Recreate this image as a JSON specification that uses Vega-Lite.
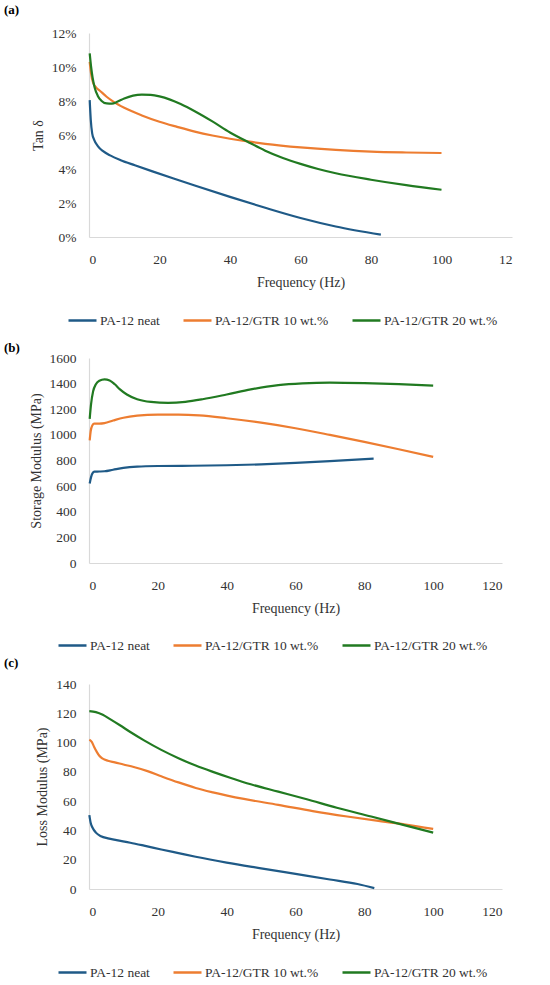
{
  "$schema": "https://vega.github.io/schema/vega-lite/v6.json",
  "background": "white",
  "padding": {"left": 4, "top": 4, "right": 4, "bottom": 0},
  "config": {
    "font": "Liberation Serif",
    "view": {"stroke": null},
    "axis": {
      "grid": false,
      "ticks": false,
      "domainColor": "#d9d9d9",
      "domainWidth": 1.2,
      "labelFontSize": 13.5,
      "labelColor": "#333333",
      "titleFontSize": 14,
      "titleFontWeight": "normal",
      "titleColor": "#333333"
    },
    "axisX": {"labelPadding": 15, "titlePadding": 10},
    "axisY": {"labelPadding": 13, "titlePadding": 6},
    "legend": {
      "orient": "none",
      "direction": "horizontal",
      "symbolType": "stroke",
      "symbolSize": 784,
      "symbolStrokeWidth": 2.5,
      "labelFontSize": 13.5,
      "labelColor": "#333333",
      "labelOffset": 2,
      "labelLimit": 300,
      "columnPadding": 18
    },
    "title": {"anchor": "start", "frame": "group", "fontSize": 13, "fontWeight": "bold", "color": "#000000", "dx": -85}
  },
  "datasets": {
    "dma": [
      {"p": "a", "s": "PA-12 neat", "f": 0.2, "v": 8.05},
      {"p": "a", "s": "PA-12 neat", "f": 0.5, "v": 6.9},
      {"p": "a", "s": "PA-12 neat", "f": 0.9, "v": 6.1},
      {"p": "a", "s": "PA-12 neat", "f": 1.5, "v": 5.7},
      {"p": "a", "s": "PA-12 neat", "f": 2.5, "v": 5.35},
      {"p": "a", "s": "PA-12 neat", "f": 4, "v": 5.05},
      {"p": "a", "s": "PA-12 neat", "f": 6, "v": 4.8},
      {"p": "a", "s": "PA-12 neat", "f": 9, "v": 4.52},
      {"p": "a", "s": "PA-12 neat", "f": 13, "v": 4.22},
      {"p": "a", "s": "PA-12 neat", "f": 18, "v": 3.86},
      {"p": "a", "s": "PA-12 neat", "f": 24, "v": 3.44},
      {"p": "a", "s": "PA-12 neat", "f": 30, "v": 3.03},
      {"p": "a", "s": "PA-12 neat", "f": 40, "v": 2.36},
      {"p": "a", "s": "PA-12 neat", "f": 50, "v": 1.72},
      {"p": "a", "s": "PA-12 neat", "f": 60, "v": 1.12},
      {"p": "a", "s": "PA-12 neat", "f": 70, "v": 0.62},
      {"p": "a", "s": "PA-12 neat", "f": 82.8, "v": 0.14},
      {"p": "a", "s": "PA-12/GTR 10 wt.%", "f": 0.2, "v": 10.3},
      {"p": "a", "s": "PA-12/GTR 10 wt.%", "f": 0.6, "v": 9.6},
      {"p": "a", "s": "PA-12/GTR 10 wt.%", "f": 1.2, "v": 9.05},
      {"p": "a", "s": "PA-12/GTR 10 wt.%", "f": 2, "v": 8.8},
      {"p": "a", "s": "PA-12/GTR 10 wt.%", "f": 3, "v": 8.62},
      {"p": "a", "s": "PA-12/GTR 10 wt.%", "f": 5, "v": 8.25},
      {"p": "a", "s": "PA-12/GTR 10 wt.%", "f": 7, "v": 7.95},
      {"p": "a", "s": "PA-12/GTR 10 wt.%", "f": 10, "v": 7.6},
      {"p": "a", "s": "PA-12/GTR 10 wt.%", "f": 15, "v": 7.15},
      {"p": "a", "s": "PA-12/GTR 10 wt.%", "f": 20, "v": 6.78},
      {"p": "a", "s": "PA-12/GTR 10 wt.%", "f": 25, "v": 6.48},
      {"p": "a", "s": "PA-12/GTR 10 wt.%", "f": 30, "v": 6.2},
      {"p": "a", "s": "PA-12/GTR 10 wt.%", "f": 35, "v": 5.97},
      {"p": "a", "s": "PA-12/GTR 10 wt.%", "f": 40, "v": 5.78},
      {"p": "a", "s": "PA-12/GTR 10 wt.%", "f": 45, "v": 5.62},
      {"p": "a", "s": "PA-12/GTR 10 wt.%", "f": 50, "v": 5.48},
      {"p": "a", "s": "PA-12/GTR 10 wt.%", "f": 60, "v": 5.27},
      {"p": "a", "s": "PA-12/GTR 10 wt.%", "f": 70, "v": 5.12},
      {"p": "a", "s": "PA-12/GTR 10 wt.%", "f": 80, "v": 5.02},
      {"p": "a", "s": "PA-12/GTR 10 wt.%", "f": 90, "v": 4.97},
      {"p": "a", "s": "PA-12/GTR 10 wt.%", "f": 100, "v": 4.94},
      {"p": "a", "s": "PA-12/GTR 20 wt.%", "f": 0.2, "v": 10.8},
      {"p": "a", "s": "PA-12/GTR 20 wt.%", "f": 0.6, "v": 10.0},
      {"p": "a", "s": "PA-12/GTR 20 wt.%", "f": 1, "v": 9.4},
      {"p": "a", "s": "PA-12/GTR 20 wt.%", "f": 1.6, "v": 8.8},
      {"p": "a", "s": "PA-12/GTR 20 wt.%", "f": 2.5, "v": 8.3},
      {"p": "a", "s": "PA-12/GTR 20 wt.%", "f": 3.5, "v": 8.02},
      {"p": "a", "s": "PA-12/GTR 20 wt.%", "f": 5, "v": 7.86},
      {"p": "a", "s": "PA-12/GTR 20 wt.%", "f": 6.5, "v": 7.85},
      {"p": "a", "s": "PA-12/GTR 20 wt.%", "f": 8, "v": 7.95},
      {"p": "a", "s": "PA-12/GTR 20 wt.%", "f": 10, "v": 8.15},
      {"p": "a", "s": "PA-12/GTR 20 wt.%", "f": 12.5, "v": 8.32},
      {"p": "a", "s": "PA-12/GTR 20 wt.%", "f": 15, "v": 8.38},
      {"p": "a", "s": "PA-12/GTR 20 wt.%", "f": 17.5, "v": 8.36},
      {"p": "a", "s": "PA-12/GTR 20 wt.%", "f": 20, "v": 8.27},
      {"p": "a", "s": "PA-12/GTR 20 wt.%", "f": 23, "v": 8.08},
      {"p": "a", "s": "PA-12/GTR 20 wt.%", "f": 26, "v": 7.82},
      {"p": "a", "s": "PA-12/GTR 20 wt.%", "f": 30, "v": 7.4},
      {"p": "a", "s": "PA-12/GTR 20 wt.%", "f": 35, "v": 6.8},
      {"p": "a", "s": "PA-12/GTR 20 wt.%", "f": 40, "v": 6.15},
      {"p": "a", "s": "PA-12/GTR 20 wt.%", "f": 45, "v": 5.6},
      {"p": "a", "s": "PA-12/GTR 20 wt.%", "f": 50, "v": 5.08},
      {"p": "a", "s": "PA-12/GTR 20 wt.%", "f": 55, "v": 4.65},
      {"p": "a", "s": "PA-12/GTR 20 wt.%", "f": 60, "v": 4.3},
      {"p": "a", "s": "PA-12/GTR 20 wt.%", "f": 65, "v": 4.0},
      {"p": "a", "s": "PA-12/GTR 20 wt.%", "f": 70, "v": 3.75},
      {"p": "a", "s": "PA-12/GTR 20 wt.%", "f": 80, "v": 3.37},
      {"p": "a", "s": "PA-12/GTR 20 wt.%", "f": 90, "v": 3.05},
      {"p": "a", "s": "PA-12/GTR 20 wt.%", "f": 100, "v": 2.78},
      {"p": "b", "s": "PA-12 neat", "f": 0.2, "v": 621},
      {"p": "b", "s": "PA-12 neat", "f": 0.6, "v": 670},
      {"p": "b", "s": "PA-12 neat", "f": 1, "v": 700},
      {"p": "b", "s": "PA-12 neat", "f": 1.6, "v": 713},
      {"p": "b", "s": "PA-12 neat", "f": 3, "v": 714},
      {"p": "b", "s": "PA-12 neat", "f": 4.5, "v": 716},
      {"p": "b", "s": "PA-12 neat", "f": 7, "v": 728},
      {"p": "b", "s": "PA-12 neat", "f": 10, "v": 742},
      {"p": "b", "s": "PA-12 neat", "f": 14, "v": 752},
      {"p": "b", "s": "PA-12 neat", "f": 20, "v": 757},
      {"p": "b", "s": "PA-12 neat", "f": 30, "v": 759},
      {"p": "b", "s": "PA-12 neat", "f": 40, "v": 763},
      {"p": "b", "s": "PA-12 neat", "f": 50, "v": 770},
      {"p": "b", "s": "PA-12 neat", "f": 60, "v": 781},
      {"p": "b", "s": "PA-12 neat", "f": 70, "v": 795},
      {"p": "b", "s": "PA-12 neat", "f": 82.7, "v": 815},
      {"p": "b", "s": "PA-12/GTR 10 wt.%", "f": 0.2, "v": 957},
      {"p": "b", "s": "PA-12/GTR 10 wt.%", "f": 0.5, "v": 1030},
      {"p": "b", "s": "PA-12/GTR 10 wt.%", "f": 1, "v": 1075},
      {"p": "b", "s": "PA-12/GTR 10 wt.%", "f": 1.5, "v": 1088},
      {"p": "b", "s": "PA-12/GTR 10 wt.%", "f": 3, "v": 1088},
      {"p": "b", "s": "PA-12/GTR 10 wt.%", "f": 4.5, "v": 1092},
      {"p": "b", "s": "PA-12/GTR 10 wt.%", "f": 7, "v": 1112},
      {"p": "b", "s": "PA-12/GTR 10 wt.%", "f": 10, "v": 1134},
      {"p": "b", "s": "PA-12/GTR 10 wt.%", "f": 14, "v": 1150},
      {"p": "b", "s": "PA-12/GTR 10 wt.%", "f": 20, "v": 1158},
      {"p": "b", "s": "PA-12/GTR 10 wt.%", "f": 26, "v": 1158},
      {"p": "b", "s": "PA-12/GTR 10 wt.%", "f": 32, "v": 1152},
      {"p": "b", "s": "PA-12/GTR 10 wt.%", "f": 40, "v": 1130},
      {"p": "b", "s": "PA-12/GTR 10 wt.%", "f": 50, "v": 1095},
      {"p": "b", "s": "PA-12/GTR 10 wt.%", "f": 60, "v": 1052},
      {"p": "b", "s": "PA-12/GTR 10 wt.%", "f": 70, "v": 1000},
      {"p": "b", "s": "PA-12/GTR 10 wt.%", "f": 80, "v": 945},
      {"p": "b", "s": "PA-12/GTR 10 wt.%", "f": 90, "v": 888},
      {"p": "b", "s": "PA-12/GTR 10 wt.%", "f": 100, "v": 828},
      {"p": "b", "s": "PA-12/GTR 20 wt.%", "f": 0.2, "v": 1125},
      {"p": "b", "s": "PA-12/GTR 20 wt.%", "f": 0.6, "v": 1240},
      {"p": "b", "s": "PA-12/GTR 20 wt.%", "f": 1.2, "v": 1340},
      {"p": "b", "s": "PA-12/GTR 20 wt.%", "f": 2, "v": 1395},
      {"p": "b", "s": "PA-12/GTR 20 wt.%", "f": 3, "v": 1422},
      {"p": "b", "s": "PA-12/GTR 20 wt.%", "f": 4.5, "v": 1433},
      {"p": "b", "s": "PA-12/GTR 20 wt.%", "f": 6, "v": 1425},
      {"p": "b", "s": "PA-12/GTR 20 wt.%", "f": 7.5, "v": 1395},
      {"p": "b", "s": "PA-12/GTR 20 wt.%", "f": 9, "v": 1355},
      {"p": "b", "s": "PA-12/GTR 20 wt.%", "f": 11, "v": 1315},
      {"p": "b", "s": "PA-12/GTR 20 wt.%", "f": 14, "v": 1278},
      {"p": "b", "s": "PA-12/GTR 20 wt.%", "f": 18, "v": 1257},
      {"p": "b", "s": "PA-12/GTR 20 wt.%", "f": 23, "v": 1250},
      {"p": "b", "s": "PA-12/GTR 20 wt.%", "f": 28, "v": 1258},
      {"p": "b", "s": "PA-12/GTR 20 wt.%", "f": 33, "v": 1278},
      {"p": "b", "s": "PA-12/GTR 20 wt.%", "f": 40, "v": 1315},
      {"p": "b", "s": "PA-12/GTR 20 wt.%", "f": 47, "v": 1355},
      {"p": "b", "s": "PA-12/GTR 20 wt.%", "f": 55, "v": 1388},
      {"p": "b", "s": "PA-12/GTR 20 wt.%", "f": 62, "v": 1402},
      {"p": "b", "s": "PA-12/GTR 20 wt.%", "f": 70, "v": 1408},
      {"p": "b", "s": "PA-12/GTR 20 wt.%", "f": 80, "v": 1404},
      {"p": "b", "s": "PA-12/GTR 20 wt.%", "f": 90, "v": 1396},
      {"p": "b", "s": "PA-12/GTR 20 wt.%", "f": 100, "v": 1385},
      {"p": "c", "s": "PA-12 neat", "f": 0.1, "v": 50.5},
      {"p": "c", "s": "PA-12 neat", "f": 0.5, "v": 45},
      {"p": "c", "s": "PA-12 neat", "f": 1, "v": 42},
      {"p": "c", "s": "PA-12 neat", "f": 2, "v": 38.5},
      {"p": "c", "s": "PA-12 neat", "f": 3.5, "v": 36},
      {"p": "c", "s": "PA-12 neat", "f": 5.5, "v": 34.6},
      {"p": "c", "s": "PA-12 neat", "f": 8, "v": 33.4},
      {"p": "c", "s": "PA-12 neat", "f": 12, "v": 31.6},
      {"p": "c", "s": "PA-12 neat", "f": 16, "v": 29.6},
      {"p": "c", "s": "PA-12 neat", "f": 21, "v": 27},
      {"p": "c", "s": "PA-12 neat", "f": 26, "v": 24.5},
      {"p": "c", "s": "PA-12 neat", "f": 31, "v": 22},
      {"p": "c", "s": "PA-12 neat", "f": 40, "v": 18},
      {"p": "c", "s": "PA-12 neat", "f": 50, "v": 14.1},
      {"p": "c", "s": "PA-12 neat", "f": 60, "v": 10.3},
      {"p": "c", "s": "PA-12 neat", "f": 70, "v": 6.5},
      {"p": "c", "s": "PA-12 neat", "f": 78, "v": 3.4},
      {"p": "c", "s": "PA-12 neat", "f": 82.9, "v": 0.6},
      {"p": "c", "s": "PA-12/GTR 10 wt.%", "f": 0.1, "v": 102},
      {"p": "c", "s": "PA-12/GTR 10 wt.%", "f": 0.8, "v": 100.5},
      {"p": "c", "s": "PA-12/GTR 10 wt.%", "f": 1.5, "v": 97},
      {"p": "c", "s": "PA-12/GTR 10 wt.%", "f": 2.3, "v": 93.5},
      {"p": "c", "s": "PA-12/GTR 10 wt.%", "f": 3, "v": 91},
      {"p": "c", "s": "PA-12/GTR 10 wt.%", "f": 4, "v": 89},
      {"p": "c", "s": "PA-12/GTR 10 wt.%", "f": 5.5, "v": 87.6},
      {"p": "c", "s": "PA-12/GTR 10 wt.%", "f": 7.5, "v": 86.5},
      {"p": "c", "s": "PA-12/GTR 10 wt.%", "f": 10, "v": 85},
      {"p": "c", "s": "PA-12/GTR 10 wt.%", "f": 13, "v": 83.3},
      {"p": "c", "s": "PA-12/GTR 10 wt.%", "f": 17, "v": 80.5},
      {"p": "c", "s": "PA-12/GTR 10 wt.%", "f": 21, "v": 77},
      {"p": "c", "s": "PA-12/GTR 10 wt.%", "f": 26, "v": 72.8},
      {"p": "c", "s": "PA-12/GTR 10 wt.%", "f": 31, "v": 69},
      {"p": "c", "s": "PA-12/GTR 10 wt.%", "f": 36, "v": 66},
      {"p": "c", "s": "PA-12/GTR 10 wt.%", "f": 45, "v": 61.5},
      {"p": "c", "s": "PA-12/GTR 10 wt.%", "f": 55, "v": 57.5},
      {"p": "c", "s": "PA-12/GTR 10 wt.%", "f": 65, "v": 53.2},
      {"p": "c", "s": "PA-12/GTR 10 wt.%", "f": 75, "v": 49.5},
      {"p": "c", "s": "PA-12/GTR 10 wt.%", "f": 85, "v": 46.2},
      {"p": "c", "s": "PA-12/GTR 10 wt.%", "f": 92, "v": 44},
      {"p": "c", "s": "PA-12/GTR 10 wt.%", "f": 100, "v": 41},
      {"p": "c", "s": "PA-12/GTR 20 wt.%", "f": 0.1, "v": 121.5},
      {"p": "c", "s": "PA-12/GTR 20 wt.%", "f": 2, "v": 120.8},
      {"p": "c", "s": "PA-12/GTR 20 wt.%", "f": 4, "v": 119},
      {"p": "c", "s": "PA-12/GTR 20 wt.%", "f": 6, "v": 116.2},
      {"p": "c", "s": "PA-12/GTR 20 wt.%", "f": 9, "v": 111.8},
      {"p": "c", "s": "PA-12/GTR 20 wt.%", "f": 12, "v": 107.2},
      {"p": "c", "s": "PA-12/GTR 20 wt.%", "f": 16, "v": 101.5},
      {"p": "c", "s": "PA-12/GTR 20 wt.%", "f": 21, "v": 95},
      {"p": "c", "s": "PA-12/GTR 20 wt.%", "f": 26, "v": 89.3},
      {"p": "c", "s": "PA-12/GTR 20 wt.%", "f": 31, "v": 84.3},
      {"p": "c", "s": "PA-12/GTR 20 wt.%", "f": 36, "v": 80},
      {"p": "c", "s": "PA-12/GTR 20 wt.%", "f": 41, "v": 76},
      {"p": "c", "s": "PA-12/GTR 20 wt.%", "f": 47, "v": 71.5},
      {"p": "c", "s": "PA-12/GTR 20 wt.%", "f": 55, "v": 66.5},
      {"p": "c", "s": "PA-12/GTR 20 wt.%", "f": 63, "v": 61.5},
      {"p": "c", "s": "PA-12/GTR 20 wt.%", "f": 72, "v": 55.5},
      {"p": "c", "s": "PA-12/GTR 20 wt.%", "f": 82, "v": 49.5},
      {"p": "c", "s": "PA-12/GTR 20 wt.%", "f": 91, "v": 44},
      {"p": "c", "s": "PA-12/GTR 20 wt.%", "f": 100, "v": 38.5}
    ]
  },
  "data": {"name": "dma"},
  "resolve": {
    "scale": {"x": "independent", "y": "independent", "color": "independent"},
    "legend": {"color": "independent"}
  },
  "columns": 1,
  "align": "none",
  "spacing": 5,
  "concat": [
    {
      "width": 423,
      "height": 204,
      "title": {"text": "(a)", "offset": 9},
      "transform": [{"filter": "datum.p === 'a'"}],
      "mark": {"type": "line", "interpolate": "monotone", "strokeWidth": 2.2},
      "encoding": {
        "x": {
          "field": "f", "type": "quantitative", "title": "Frequency (Hz)",
          "scale": {"domain": [0, 120], "nice": false},
          "axis": {"values": [0, 20, 40, 60, 80, 100, 120], "labelExpr": "datum.value == 120 ? '12' : datum.label"}
        },
        "y": {
          "field": "v", "type": "quantitative", "title": "Tan δ",
          "scale": {"domain": [0, 12], "nice": false},
          "axis": {"values": [0, 2, 4, 6, 8, 10, 12], "labelExpr": "datum.label + '%'"}
        },
        "color": {
          "field": "s", "type": "nominal", "title": null,
          "scale": {"domain": ["PA-12 neat", "PA-12/GTR 10 wt.%", "PA-12/GTR 20 wt.%"], "range": ["#1f5a87", "#ed7d31", "#217a21"]},
          "legend": {"legendX": -32, "legendY": 262, "padding": 10}
        }
      }
    },
    {
      "width": 413,
      "height": 205,
      "title": {"text": "(b)", "offset": -4},
      "transform": [{"filter": "datum.p === 'b'"}],
      "mark": {"type": "line", "interpolate": "monotone", "strokeWidth": 2.2},
      "encoding": {
        "x": {
          "field": "f", "type": "quantitative", "title": "Frequency (Hz)",
          "scale": {"domain": [0, 120], "nice": false},
          "axis": {"values": [0, 20, 40, 60, 80, 100, 120]}
        },
        "y": {
          "field": "v", "type": "quantitative", "title": "Storage Modulus (MPa)",
          "scale": {"domain": [0, 1600], "nice": false},
          "axis": {"values": [0, 200, 400, 600, 800, 1000, 1200, 1400, 1600], "format": "d"}
        },
        "color": {
          "field": "s", "type": "nominal", "title": null,
          "scale": {"domain": ["PA-12 neat", "PA-12/GTR 10 wt.%", "PA-12/GTR 20 wt.%"], "range": ["#1f5a87", "#ed7d31", "#217a21"]},
          "legend": {"legendX": -32, "legendY": 272}
        }
      }
    },
    {
      "width": 413,
      "height": 205,
      "title": {"text": "(c)", "offset": 7},
      "transform": [{"filter": "datum.p === 'c'"}],
      "mark": {"type": "line", "interpolate": "monotone", "strokeWidth": 2.2},
      "encoding": {
        "x": {
          "field": "f", "type": "quantitative", "title": "Frequency (Hz)",
          "scale": {"domain": [0, 120], "nice": false},
          "axis": {"values": [0, 20, 40, 60, 80, 100, 120]}
        },
        "y": {
          "field": "v", "type": "quantitative", "title": "Loss Modulus (MPa)",
          "scale": {"domain": [0, 140], "nice": false},
          "axis": {"values": [0, 20, 40, 60, 80, 100, 120, 140]}
        },
        "color": {
          "field": "s", "type": "nominal", "title": null,
          "scale": {"domain": ["PA-12 neat", "PA-12/GTR 10 wt.%", "PA-12/GTR 20 wt.%"], "range": ["#1f5a87", "#ed7d31", "#217a21"]},
          "legend": {"legendX": -32, "legendY": 273}
        }
      }
    }
  ]
}
